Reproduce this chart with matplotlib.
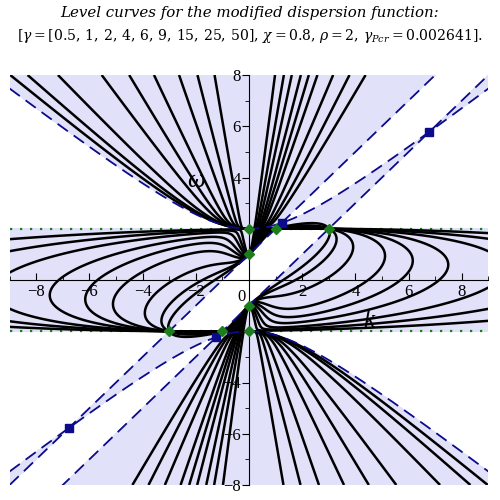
import numpy as np
import matplotlib
matplotlib.use('Agg')
import matplotlib.pyplot as plt
from matplotlib.ticker import MultipleLocator

plt.rcParams['mathtext.fontset'] = 'dejavuserif'

## parameters of the modified dispersion function
gamma_levels = [0.5, 1, 2, 4, 6, 9, 15, 25, 50]
chi = 0.8
rho = 2.0
gamma_pcr = 0.002641
beam_v = 1.0   # slope of the beam lines  w = v*k +/- wb
beam_w = 1.0

## points where all level curves meet (green) and where the dashed curves cross (blue)
node_k = [0, 0, 0, 0, 1, 3, -1, -3]
node_w = [1, -1, 2, -2, 2, 2, -2, -2]
cross_k = [1.228, 6.784, -1.228, -6.784]
cross_w = [2.228, 5.784, -2.228, -5.784]

xticks = [-8, -6, -4, -2, 2, 4, 6, 8]
yticks = [-8, -6, -4, 4, 6, 8]

shade = '#e1e1f9'
navy = '#0b0b8c'
green = '#1b7d1b'


def numer(k, w):
    return (w**2 - rho**2 - chi**2*k**2)*((w - beam_v*k)**2 - beam_w**2)


def denom(k, w):
    return k**2*(w**2 - rho**2)


kk = np.linspace(-9, 9, 1401)
ww = np.linspace(-8, 8, 1401)
K, W = np.meshgrid(kk, ww)
N = numer(K, W)
D = denom(K, W)

fig = plt.figure(figsize=(5, 5), dpi=100)
ax = fig.add_axes([0.0192, 0.03, 0.9576, 0.82])

# region where gamma is positive
S = N*(W**2 - rho**2)
ax.contourf(K, W, S, levels=[0, np.abs(S).max()*2], colors=[shade], zorder=0)

# level curves gamma = N/D
for g in gamma_levels:
    ax.contour(K, W, N - g*D, levels=[0], colors='k', linewidths=1.8, zorder=2)

# dashed curves: w^2 = rho^2 + chi^2 k^2 and beam lines
kl = np.linspace(-9, 9, 600)
hyp = np.sqrt(rho**2 + chi**2*kl**2)
dash = (0, (7, 4))
for y in [hyp, -hyp, beam_v*kl + beam_w, beam_v*kl - beam_w]:
    ax.plot(kl, y, color=navy, lw=1.3, ls=dash, zorder=3)

for y in [rho, -rho]:
    ax.axhline(y, color=green, lw=1.6, ls=(0, (1, 3.5)), zorder=1)

ax.plot(cross_k, cross_w, ls='none', marker='s', ms=6, color=navy, zorder=5)
ax.plot(node_k, node_w, ls='none', marker='D', ms=5, color=green, zorder=5)

ax.set_xlim(-9, 9)
ax.set_ylim(-8, 8)
for s in ['top', 'right']:
    ax.spines[s].set_visible(False)
ax.spines['left'].set_position('zero')
ax.spines['bottom'].set_position('zero')
ax.spines['left'].set_zorder(4)
ax.spines['bottom'].set_zorder(4)
ax.set_facecolor('white')
ax.set_axisbelow(False)

tfont = {'family': 'Liberation Serif', 'size': 12}
ax.set_xticks(xticks)
ax.set_xticklabels([f'{t:g}'.replace('-', '\u2212') for t in xticks], fontdict=tfont)
ax.set_yticks(yticks)
ax.set_yticklabels([f'{t:g}'.replace('-', '\u2212') for t in yticks], fontdict=tfont)
ax.xaxis.set_minor_locator(MultipleLocator(1))
ax.yaxis.set_minor_locator(MultipleLocator(1))
ax.tick_params(axis='x', which='major', direction='in', length=5, pad=3)
ax.tick_params(axis='x', which='minor', direction='in', length=3)
ax.tick_params(axis='y', which='major', direction='out', length=5, pad=1)
ax.tick_params(axis='y', which='minor', direction='out', length=3)
ax.text(-0.12, -0.35, '0', ha='right', va='top', **tfont)

ax.text(4.5, -1.6, 'k', ha='center', va='center', style='italic',
        family='Liberation Serif', size=18)
ax.text(-2.0, 3.85, '\u03c9', ha='center', va='center', style='italic',
        family='Liberation Serif', size=18)

fig.text(0.5, 1 - 13/500, 'Level curves for the modified dispersion function:',
         ha='center', va='center', style='italic', family='DejaVu Serif', size=10.8)
lv = r',\,'.join(f'{g:g}' for g in gamma_levels)
line2 = (r'$\left[\gamma = \mathit{[' + lv + r']},\,\chi = \mathit{' + f'{chi:g}' +
         r'},\,\rho = \mathit{' + f'{rho:g}' + r'},\,\gamma_{Pcr} = \mathit{' +
         f'{gamma_pcr:g}' + r'}\right].$')
fig.text(0.5, 1 - 36/500, line2, ha='center', va='center', size=10.1)

fig.savefig('out.png', dpi=100)
